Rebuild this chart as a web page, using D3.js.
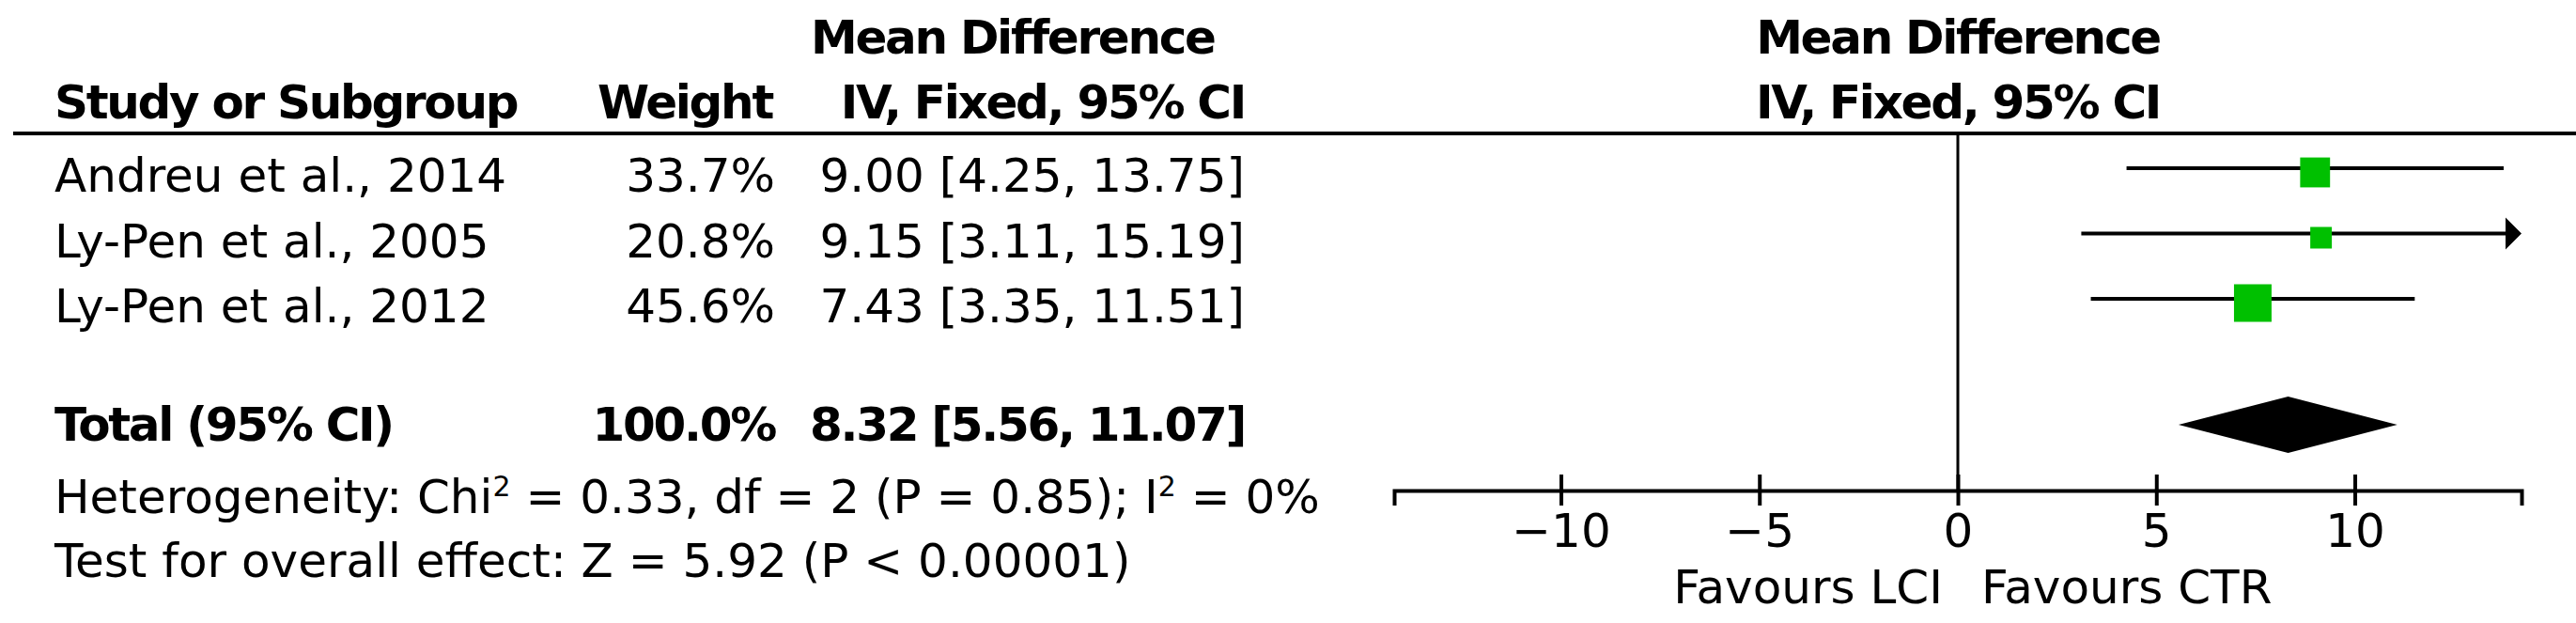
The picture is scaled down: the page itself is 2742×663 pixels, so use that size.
<!DOCTYPE html>
<html>
<head>
<meta charset="utf-8">
<script src="https://cdn.jsdelivr.net/npm/d3@7"></script>
<style>
  html, body { margin: 0; padding: 0; background: #fff; }
  svg { display: block; }
  text { font-family: "DejaVu Sans", sans-serif; font-size: 50px; fill: #000; }
  .b { font-weight: bold; letter-spacing: -2.3px; }
</style>
</head>
<body>
<script>
// ---- data ----
const studies = ["Andreu et al., 2014", "Ly-Pen et al., 2005", "Ly-Pen et al., 2012"];
const weights = [33.7, 20.8, 45.6];
const meanDiff = [9.00, 9.15, 7.43];
const ciLow = [4.25, 3.11, 3.35];
const ciHigh = [13.75, 15.19, 11.51];
const totalLabel = "Total (95% CI)";
const totalWeight = 100.0;
const totalMD = 8.32, totalLow = 5.56, totalHigh = 11.07;
const tickValues = [-10, -5, 0, 5, 10];
const xDomain = [-14.2, 14.2];
const leftLabel = "Favours LCI", rightLabel = "Favours CTR";
const colHeaders = ["Study or Subgroup", "Weight", "Mean Difference", "IV, Fixed, 95% CI"];

// ---- layout ----
const W = 2742, H = 663;
const svg = d3.select("body").append("svg").attr("width", W).attr("height", H);

const x = d3.scaleLinear().domain(xDomain).range([1484, 2684]);
const rowY = d3.scalePoint().domain(d3.range(studies.length)).range([179, 318]);
const sq = d3.scaleLinear().domain([0, 100]).range([8.7, 77.3]);
const fmt2 = d3.format(".2f"), fmt1 = d3.format(".1f");
const ciText = (m, l, h) => `${fmt2(m)} [${fmt2(l)}, ${fmt2(h)}]`;

const colStudy = 58, colWeight = 825, colCI = 1325;
const axisY = 522, headerLineY = 142;
const totalY = 469, hetY = 546, testY = 614;

// headers
svg.append("text").attr("class", "b").attr("x", 863).attr("y", 57).text(colHeaders[2]);
svg.append("text").attr("class", "b").attr("x", colStudy).attr("y", 126).text(colHeaders[0]);
svg.append("text").attr("class", "b").attr("x", colWeight - 3).attr("y", 126).attr("text-anchor", "end").text(colHeaders[1]);
svg.append("text").attr("class", "b").attr("x", colCI).attr("y", 126).attr("text-anchor", "end").text(colHeaders[3]);
svg.append("text").attr("class", "b").attr("x", x(0)).attr("y", 57).attr("text-anchor", "middle").text(colHeaders[2]);
svg.append("text").attr("class", "b").attr("x", x(0)).attr("y", 126).attr("text-anchor", "middle").text(colHeaders[3]);

svg.append("line").attr("x1", 14).attr("x2", W).attr("y1", headerLineY).attr("y2", headerLineY)
  .attr("stroke", "#000").attr("stroke-width", 4);

// study rows text
const rows = svg.append("g").selectAll("g").data(studies).join("g");
rows.append("text").attr("x", colStudy).attr("y", (d, i) => rowY(i) + 25).text(d => d);
rows.append("text").attr("x", colWeight).attr("y", (d, i) => rowY(i) + 25).attr("text-anchor", "end")
  .text((d, i) => fmt1(weights[i]) + "%");
rows.append("text").attr("x", colCI).attr("y", (d, i) => rowY(i) + 25).attr("text-anchor", "end")
  .text((d, i) => ciText(meanDiff[i], ciLow[i], ciHigh[i]));

// total row text
svg.append("text").attr("class", "b").attr("x", colStudy).attr("y", totalY).text(totalLabel);
svg.append("text").attr("class", "b").attr("x", colWeight).attr("y", totalY).attr("text-anchor", "end").text(fmt1(totalWeight) + "%");
svg.append("text").attr("class", "b").attr("x", colCI).attr("y", totalY).attr("text-anchor", "end").text(ciText(totalMD, totalLow, totalHigh));

// heterogeneity / test
const het = svg.append("text").attr("x", colStudy).attr("y", hetY);
het.append("tspan").text("Heterogeneity: Chi");
het.append("tspan").attr("dy", -18).style("font-size", "30px").text("2");
het.append("tspan").attr("dy", 18).text(" = 0.33, df = 2 (P = 0.85); I");
het.append("tspan").attr("dy", -18).style("font-size", "30px").text("2");
het.append("tspan").attr("dy", 18).text(" = 0%");
svg.append("text").attr("x", colStudy).attr("y", testY).text("Test for overall effect: Z = 5.92 (P < 0.00001)");

// zero line
svg.append("line").attr("x1", x(0)).attr("x2", x(0)).attr("y1", headerLineY).attr("y2", axisY)
  .attr("stroke", "#000").attr("stroke-width", 3);

// CI lines
const plot = svg.append("g");
const xmax = xDomain[1], xmin = xDomain[0];
studies.forEach((s, i) => {
  const y = rowY(i);
  const l = Math.max(ciLow[i], xmin), h = Math.min(ciHigh[i], xmax);
  const arrowR = ciHigh[i] > xmax;
  plot.append("line").attr("x1", x(l)).attr("x2", arrowR ? x(h) - 10 : x(h))
    .attr("y1", y).attr("y2", y).attr("stroke", "#000").attr("stroke-width", 4);
  if (arrowR) {
    const tip = x(xmax);
    plot.append("path").attr("d", `M${tip},${y} L${tip - 17},${y - 17} L${tip - 17},${y + 17} Z`).attr("fill", "#000");
  }
  const s2 = sq(weights[i]);
  plot.append("rect").attr("x", x(meanDiff[i]) - s2 / 2).attr("y", y + 4.5 - s2 / 2)
    .attr("width", s2).attr("height", s2).attr("fill", "#00c000");
});

// diamond
const dy = 452;
plot.append("path")
  .attr("d", `M${x(totalLow)},${dy} L${x(totalMD)},${dy - 30} L${x(totalHigh)},${dy} L${x(totalMD)},${dy + 30} Z`)
  .attr("fill", "#000");

// axis
const axis = svg.append("g").attr("transform", `translate(0,${axisY})`)
  .call(d3.axisBottom(x).tickValues(tickValues).tickSizeOuter(0).tickSize(16).tickFormat(d3.format("d")));
axis.select(".domain").attr("stroke", "#000").attr("stroke-width", 4);
axis.selectAll(".tick line").attr("y1", -17).attr("y2", 16).attr("stroke", "#000").attr("stroke-width", 4);
axis.selectAll(".tick text").attr("y", 60).attr("dy", 0)
  .style("font-family", "DejaVu Sans").style("font-size", "50px").attr("fill", "#000");

svg.append("text").attr("x", 2068).attr("y", 642).attr("text-anchor", "end").text(leftLabel);
svg.append("text").attr("x", 2109).attr("y", 642).text(rightLabel);
</script>
</body>
</html>
